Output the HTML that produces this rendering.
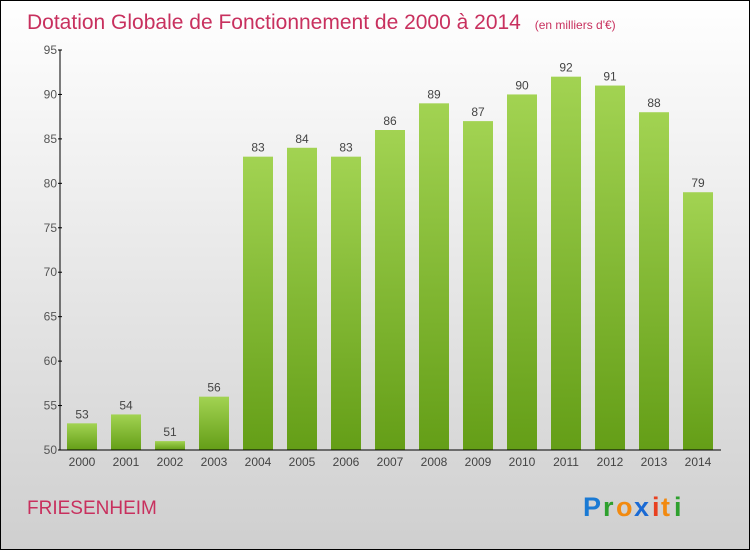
<!DOCTYPE html>
<html><head><meta charset="utf-8"><style>
body{margin:0;width:750px;height:550px;overflow:hidden;font-family:"Liberation Sans",sans-serif}
</style></head><body>
<svg width="750" height="550" xmlns="http://www.w3.org/2000/svg">
<defs>
<linearGradient id="bg" x1="0" y1="0" x2="0" y2="1"><stop offset="0" stop-color="#ffffff"/><stop offset="1" stop-color="#cfcfcf"/></linearGradient>
<linearGradient id="bar" x1="0" y1="0" x2="0" y2="1"><stop offset="0" stop-color="#a2d352"/><stop offset="1" stop-color="#649e17"/></linearGradient>
</defs>
<rect x="0.5" y="0.5" width="749" height="549" fill="url(#bg)" stroke="#000"/>
<text x="27" y="29" font-size="21" fill="#c8305e">Dotation Globale de Fonctionnement de 2000 à 2014 <tspan font-size="12" dx="8">(en milliers d'€)</tspan></text>
<g id="plot"></g>
<text x="27" y="514" font-size="19" fill="#c8305e">FRIESENHEIM</text>
<g font-size="27" font-weight="bold">
<text x="583" y="516" fill="#1a7ad4">P</text><text x="603" y="516" fill="#2ea02e">r</text><text x="616" y="516" fill="#f28a10">o</text><text x="634" y="516" fill="#1a6ad4">x</text><text x="652" y="516" fill="#e84020">i</text><text x="661" y="516" fill="#f28a10">t</text><text x="674" y="516" fill="#2ea02e">i</text>
</g>
</svg>
<script>
const categories=["2000","2001","2002","2003","2004","2005","2006","2007","2008","2009","2010","2011","2012","2013","2014"];
const values=[53,54,51,56,83,84,83,86,89,87,90,92,91,88,79];
const yTicks=[50,55,60,65,70,75,80,85,90,95];
const NS="http://www.w3.org/2000/svg";
const g=document.getElementById('plot');
const y=v=>450-(v-50)*400/45;
const x=i=>82+i*44;
function mk(t,a,txt){const e=document.createElementNS(NS,t);for(const k in a)e.setAttribute(k,a[k]);if(txt!=null)e.textContent=txt;g.appendChild(e);return e;}
values.forEach((v,i)=>{
 const r=mk('rect',{x:x(i)-15,y:y(v),width:30,height:450-y(v),fill:'url(#bar)'});
 
 
 const l=mk('text',{x:x(i),y:y(v)-5,'text-anchor':'middle','font-size':12,fill:'#444'},v);
 
 
 const c=mk('text',{x:x(i),y:466,'text-anchor':'middle','font-size':12,fill:'#444'},categories[i]);
 
 
});
yTicks.forEach(t=>{
 const tk=mk('line',{x1:58,x2:62,y1:y(t),y2:y(t),stroke:'#000'});
 
 
 const l=mk('text',{x:57,y:y(t)+4,'text-anchor':'end','font-size':12,fill:'#555'},t);
 
 
});
const ya=mk('line',{x1:60,x2:60,y1:50,y2:450,stroke:'#000'});


const xa=mk('line',{x1:60,x2:721,y1:450,y2:450,stroke:'#000'});


</script>
</body></html>
